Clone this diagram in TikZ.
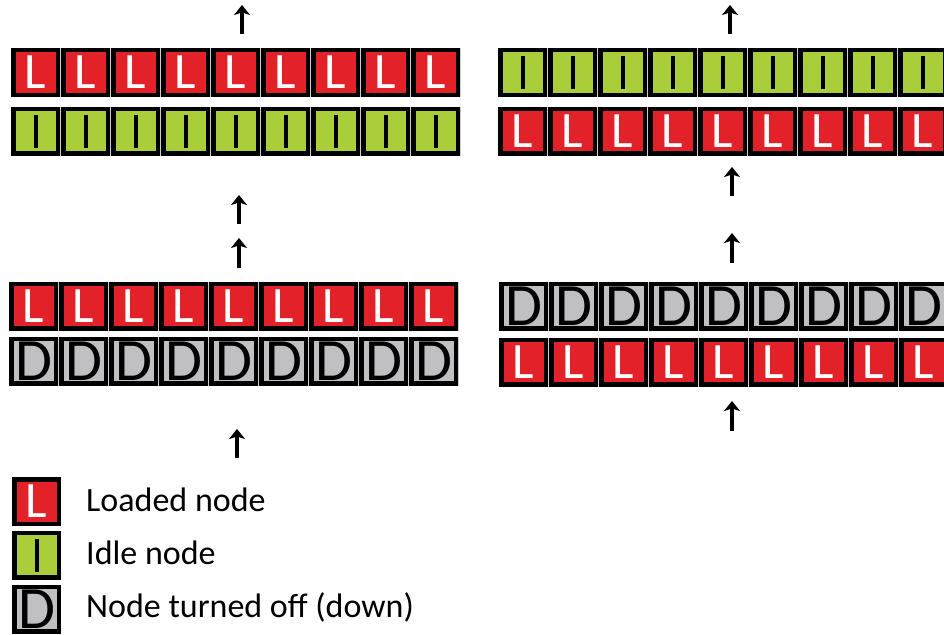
\documentclass[tikz,border=0pt]{standalone}
\usepackage{fontspec}
\setmainfont{Carlito}
\usetikzlibrary{arrows.meta}
\definecolor{loadred}{RGB}{226,34,40}
\definecolor{idlegreen}{RGB}{170,206,58}
\definecolor{downgray}{RGB}{192,192,194}
\definecolor{gapgray}{RGB}{205,205,205}
\tikzset{
  cellbox/.style={draw=black, line width=4.5pt, minimum width=44.5pt, minimum height=44.5pt, inner sep=0pt, outer sep=0pt, anchor=center},
  loaded/.style={cellbox, fill=loadred, text=white, font=\fontsize{51}{51}\selectfont},
  idle/.style={cellbox, fill=idlegreen},
  down/.style={cellbox, fill=downgray, text=black, font=\fontsize{60}{60}\selectfont},
  flowarrow/.style={line width=4.5pt, -{Stealth[length=10pt,width=16pt,inset=2.5pt]}},
  legtext/.style={anchor=west, font=\fontsize{34}{34}\selectfont, inner sep=0pt}
}
\newcommand{\idlebar}{\rule[0pt]{4pt}{33pt}}
\begin{document}
\begin{tikzpicture}[x=1pt,y=-1pt]
\useasboundingbox (0,0) rectangle (944,634);
% thin gray separators behind rows
\fill[gapgray] (11,48) rectangle (461,97);
\fill[gapgray] (11,106.5) rectangle (461,155.5);
\fill[gapgray] (498,48) rectangle (944,97);
\fill[gapgray] (498,106.5) rectangle (944,155.5);
\fill[gapgray] (9,281.5) rectangle (459,330.5);
\fill[gapgray] (9,336.5) rectangle (459,385.5);
\fill[gapgray] (499,281.5) rectangle (944,330.5);
\fill[gapgray] (499,337.5) rectangle (944,386.5);
% top-left block
\foreach \i in {0,...,8}{
  \node[loaded] (tlA\i) at (11+24.5+50*\i,72.5) {L};
  \node[idle]   (tlB\i) at (11+24.5+50*\i,131) {\idlebar};
}
% top-right block
\foreach \i in {0,...,8}{
  \node[idle]   (trA\i) at (498+24.5+50*\i,72.5) {\idlebar};
  \node[loaded] (trB\i) at (498+24.5+50*\i,131) {L};
}
% middle-left block
\foreach \i in {0,...,8}{
  \node[loaded] (mlA\i) at (9+24.5+50*\i,306) {L};
  \node[down]   (mlB\i) at (9+24.5+50*\i,361) {D};
}
% middle-right block
\foreach \i in {0,...,8}{
  \node[down]   (mrA\i) at (499+24.5+50*\i,306) {D};
  \node[loaded] (mrB\i) at (499+24.5+50*\i,362) {L};
}
% arrows
\coordinate (a1s) at (242,34); \coordinate (a1e) at (242,5);
\coordinate (a2s) at (730,34); \coordinate (a2e) at (730,5);
\coordinate (a3s) at (239,224); \coordinate (a3e) at (239,195);
\coordinate (a4s) at (239,268); \coordinate (a4e) at (239,238);
\coordinate (a5s) at (237,458); \coordinate (a5e) at (237,429);
\coordinate (a6s) at (732,196); \coordinate (a6e) at (732,167);
\coordinate (a7s) at (732,263); \coordinate (a7e) at (732,233);
\coordinate (a8s) at (732,431); \coordinate (a8e) at (732,401);
\foreach \k in {1,...,8}{ \draw[flowarrow] (a\k s) -- (a\k e); }
% legend
\node[loaded] (legL) at (36.5,501.5) {L};
\node[idle]   (legI) at (36.5,555) {\idlebar};
\node[down]   (legD) at (36.5,609) {D};
\node[legtext] (txtL) at (86,500) {Loaded node};
\node[legtext] (txtI) at (86,553) {Idle node};
\node[legtext] (txtD) at (86,607) {Node turned off (down)};
\end{tikzpicture}
\end{document}
